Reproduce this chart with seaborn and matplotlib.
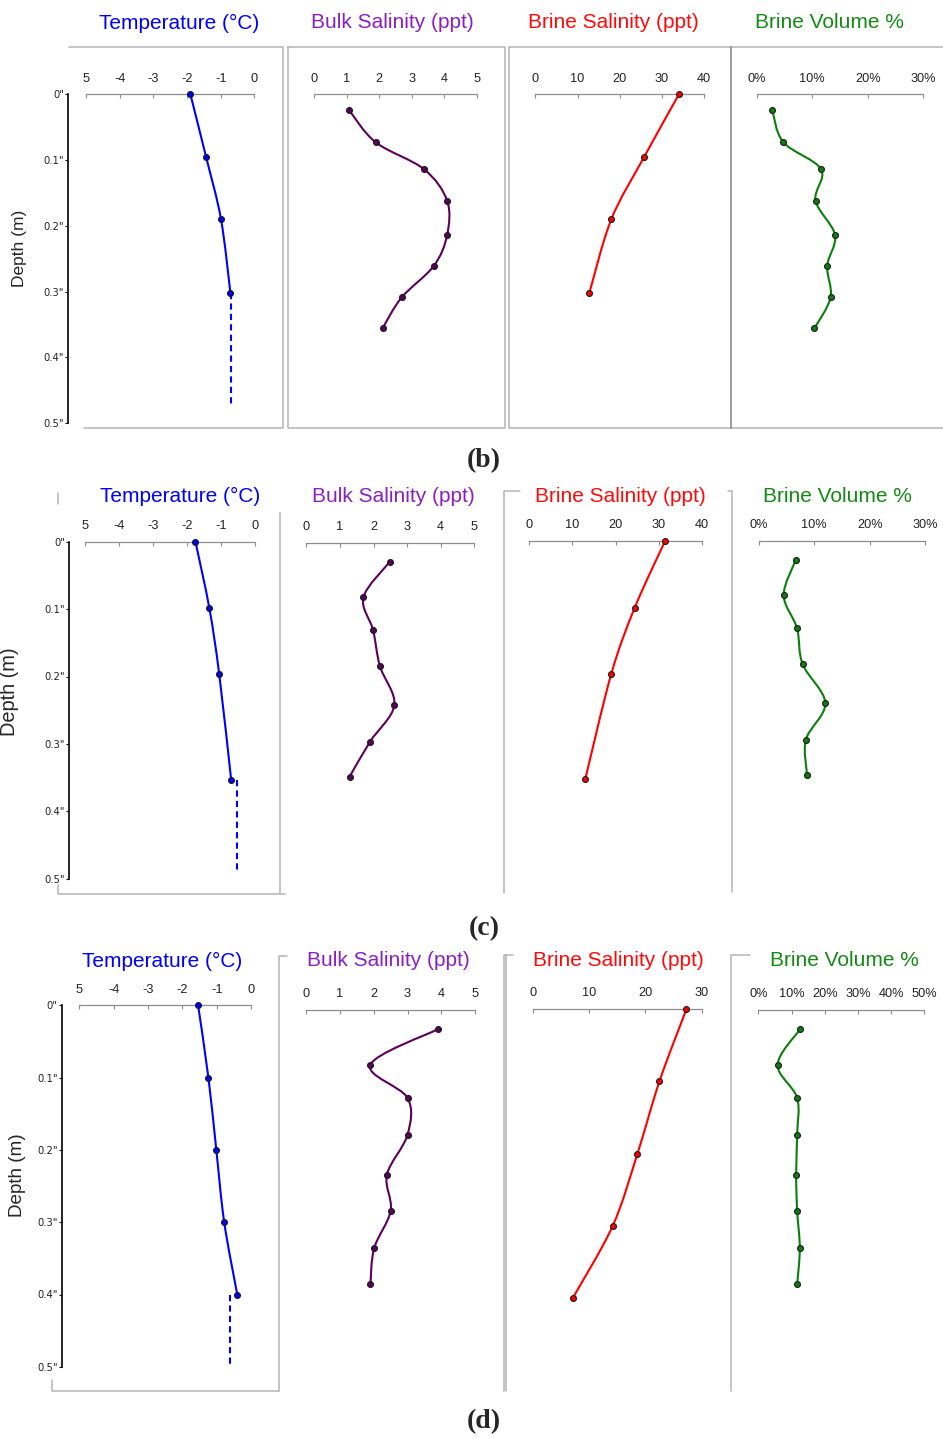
import matplotlib.pyplot as plt
import numpy as np
import seaborn as sns
from matplotlib.lines import Line2D
from matplotlib.patches import PathPatch
from matplotlib.path import Path
from matplotlib.ticker import FixedFormatter, FixedLocator

W, H = 943, 1438

# ---- data (depth in m) ----
# (b)
b_temp_depth = [0.0, 0.096, 0.190, 0.302]
b_temp = [-1.90, -1.43, -0.99, -0.71]
b_ice_depth = [0.302, 0.475]
b_ice_temp = [-0.70, -0.70]
b_brine_sal = [34.0, 25.7, 18.0, 12.8]
b_bulk_depth = [0.024, 0.073, 0.114, 0.162, 0.214, 0.261, 0.309, 0.356]
b_bulk_sal = [1.07, 1.89, 3.38, 4.09, 4.09, 3.68, 2.69, 2.10]
b_brine_vol = [2.8, 4.8, 11.6, 10.6, 14.1, 12.7, 13.3, 10.4]

# (c)
c_temp_depth = [0.0, 0.099, 0.197, 0.353]
c_temp = [-1.76, -1.35, -1.06, -0.71]
c_ice_depth = [0.353, 0.49]
c_ice_temp = [-0.54, -0.54]
c_brine_sal = [31.4, 24.4, 19.0, 13.0]
c_bulk_depth = [0.028, 0.081, 0.130, 0.183, 0.241, 0.295, 0.347]
c_bulk_sal = [2.49, 1.70, 1.99, 2.19, 2.62, 1.90, 1.29]
c_brine_vol = [6.7, 4.5, 6.9, 7.9, 12.0, 8.5, 8.7]

# (d)
d_temp_depth = [0.0, 0.1, 0.2, 0.3, 0.4]
d_temp = [-1.54, -1.24, -1.01, -0.78, -0.40]
d_ice_depth = [0.4, 0.498]
d_ice_temp = [-0.60, -0.60]
d_brine_sal = [27.3, 22.5, 18.6, 14.2, 7.1]
d_bulk_depth = [0.027, 0.076, 0.122, 0.173, 0.228, 0.278, 0.330, 0.380]
d_bulk_sal = [3.90, 1.90, 3.00, 3.00, 2.39, 2.50, 2.01, 1.90]
d_brine_vol = [12.6, 5.8, 11.7, 11.7, 11.4, 11.7, 12.5, 11.7]

depth_ticks = [0, 0.1, 0.2, 0.3, 0.4, 0.5]
depth_labels = ['0"', '0.1"', '0.2"', '0.3"', '0.4"', '0.5"']
temp_ticks = [-5, -4, -3, -2, -1, 0]
temp_labels = ["5", "-4", "-3", "-2", "-1", "0"]
bulk_ticks = [0, 1, 2, 3, 4, 5]
brine40_ticks = [0, 10, 20, 30, 40]
brine30_ticks = [0, 10, 20, 30]
vol30_ticks = [0, 10, 20, 30]
vol50_ticks = [0, 10, 20, 30, 40, 50]

TITLES = ["Temperature (°C)", "Bulk Salinity (ppt)", "Brine Salinity (ppt)", "Brine Volume %"]
TITLE_COLORS = ["#0000ff", "#8a1fc4", "#ff0a0a", "#138a13"]
LINE_COLORS = ["#0000ff", "#5c005c", "#ff0000", "#0a800a"]

sns.set_style("white")
plt.rcParams["font.family"] = ["Liberation Sans", "DejaVu Sans"]


def px_axes(fig, x0, x1, top, height):
    return fig.add_axes([x0 / W, 1 - (top + height) / H, (x1 - x0) / W, height / H])


def smooth_path(x, y):
    # Excel-like smoothed line: Catmull-Rom segments as cubic Bezier curves
    pts = np.column_stack([x, y]).astype(float)
    n = len(pts)
    verts, codes = [pts[0]], [Path.MOVETO]
    for i in range(n - 1):
        p0, p1 = pts[max(i - 1, 0)], pts[i]
        p2, p3 = pts[i + 1], pts[min(i + 2, n - 1)]
        verts += [p1 + (p2 - p0) / 6, p2 - (p3 - p1) / 6, p2]
        codes += [Path.CURVE4] * 3
    return Path(verts, codes)


def profile(ax, values, depth, color, xlim, ticks, labels, bounds=None):
    ax.add_patch(PathPatch(smooth_path(values, depth), fill=False,
                           edgecolor=color, lw=1.5, zorder=2))
    sns.scatterplot(x=values, y=depth, ax=ax, marker="o", s=18, color=color,
                    edgecolor="#1a1a1a", linewidth=0.8, zorder=3, clip_on=False)
    ax.set_xlim(*xlim)
    ax.set_ylim(0.5, 0)
    ax.set_xlabel("")
    ax.set_ylabel("")
    ax.xaxis.tick_top()
    ax.xaxis.set_major_locator(FixedLocator(ticks))
    ax.xaxis.set_major_formatter(FixedFormatter(labels))
    ax.tick_params(axis="x", top=True, bottom=False, labeltop=True, labelbottom=False,
                   direction="in", length=3, width=0.8, color="#8c8c8c", pad=7,
                   labelsize=9.2, labelcolor="#222222")
    for s in ["right", "bottom", "left"]:
        ax.spines[s].set_visible(False)
    ax.spines["top"].set_color("#8c8c8c")
    ax.spines["top"].set_linewidth(0.9)
    if bounds is not None:
        ax.spines["top"].set_bounds(*bounds)
    ax.tick_params(axis="y", left=False, labelleft=False)
    ax.set_facecolor("none")


def depth_axis(ax):
    ax.spines["left"].set_visible(True)
    ax.spines["left"].set_color("black")
    ax.spines["left"].set_linewidth(1.2)
    ax.yaxis.set_major_locator(FixedLocator(depth_ticks))
    ax.yaxis.set_major_formatter(FixedFormatter(depth_labels))
    ax.tick_params(axis="y", left=True, labelleft=True, direction="out", length=2.5,
                   width=0.8, color="black", pad=0.5, labelsize=7.2, labelcolor="#222222")
    for t in ax.get_yticklabels():
        t.set_fontfamily("DejaVu Sans")


def pct(ticks):
    return [f"{t}%" for t in ticks]


# row layout in pixels: (x0, x1, top) per panel, plus depth span for 0.5 m
rows = [
    dict(
        height=328.7, title_y=23, label="(b)", label_y=461, depth_lbl=(20, 248, 12.5),
        panels=[(68.3, 254.3, 94.3), (314.3, 476.7, 94.3), (535.3, 704.3, 94.3), (756.7, 923.3, 94.3)],
        title_x=[179, 392, 613, 829],
        temp=(b_temp, b_temp_depth, b_ice_temp, b_ice_depth, -5.53),
        bulk=(b_bulk_sal, b_bulk_depth), brine=(b_brine_sal, b_temp_depth, brine40_ticks),
        vol=(b_brine_vol, b_bulk_depth, vol30_ticks),
    ),
    dict(
        height=337.0, title_y=496, label="(c)", label_y=929, depth_lbl=(10, 692, 14.4),
        panels=[(69.3, 255.3, 541.7), (306.3, 474.3, 542.7), (529.0, 702.3, 541.0), (758.7, 925.3, 540.7)],
        title_x=[180, 393, 620, 837],
        temp=(c_temp, c_temp_depth, c_ice_temp, c_ice_depth, -5.47),
        bulk=(c_bulk_sal, c_bulk_depth), brine=(c_brine_sal, c_temp_depth, brine40_ticks),
        vol=(c_brine_vol, c_bulk_depth, vol30_ticks),
    ),
    dict(
        height=361.5, title_y=961, label="(d)", label_y=1422, depth_lbl=(17, 1175, 13.6),
        panels=[(61.7, 251.0, 1005.3), (306.3, 475.0, 1009.7), (532.7, 701.7, 1009.0), (758.3, 924.3, 1009.7)],
        title_x=[162, 388, 618, 844],
        temp=(d_temp, d_temp_depth, d_ice_temp, d_ice_depth, -5.51),
        bulk=(d_bulk_sal, d_bulk_depth), brine=(d_brine_sal, d_temp_depth, brine30_ticks),
        vol=(d_brine_vol, d_bulk_depth, vol50_ticks),
    ),
]

# decorative frame fragments from the composed figure (pixel polylines)
frames = [
    ([(69, 47), (283, 47), (283, 428), (84, 428)], "#b4b4b4"),
    ([(288, 47), (505, 47), (505, 428), (288, 428), (288, 47)], "#b4b4b4"),
    ([(509, 47), (943, 47)], "#b4b4b4"),
    ([(509, 47), (509, 428), (943, 428)], "#b4b4b4"),
    ([(731, 47), (731, 428)], "#808080"),
    ([(58, 493), (58, 504)], "#b4b4b4"),
    ([(58, 885), (58, 894), (285, 894)], "#b4b4b4"),
    ([(280, 513), (280, 893)], "#b4b4b4"),
    ([(520, 491), (504, 491), (504, 893)], "#b4b4b4"),
    ([(728, 491), (731.7, 491), (731.7, 892)], "#b4b4b4"),
    ([(287, 956), (279, 956), (279, 1391)], "#b4b4b4"),
    ([(52, 1380), (52, 1391), (279, 1391)], "#b4b4b4"),
    ([(513, 955), (504, 955), (504, 1391)], "#b4b4b4"),
    ([(506, 955), (506, 1391)], "#b4b4b4"),
    ([(750, 955), (731, 955), (731, 1391)], "#b4b4b4"),
]

fig = plt.figure(figsize=(W / 100, H / 100), dpi=100)

for pts, col in frames:
    xs = [p[0] / W for p in pts]
    ys = [1 - p[1] / H for p in pts]
    fig.add_artist(Line2D(xs, ys, color=col, lw=1.1, transform=fig.transFigure))

for row in rows:
    h = row["height"]
    axs = [px_axes(fig, x0, x1, top, h) for x0, x1, top in row["panels"]]

    temp, tdepth, ice_t, ice_d, tleft = row["temp"]
    profile(axs[0], temp, tdepth, LINE_COLORS[0], (tleft, 0), temp_ticks, temp_labels, bounds=(-5, 0))
    axs[0].plot(ice_t, ice_d, color=LINE_COLORS[0], lw=1.5, ls=(0, (3, 2)))
    depth_axis(axs[0])

    bulk, bdepth = row["bulk"]
    profile(axs[1], bulk, bdepth, LINE_COLORS[1], (0, 5), bulk_ticks, [str(t) for t in bulk_ticks])

    brine, brdepth, brticks = row["brine"]
    profile(axs[2], brine, brdepth, LINE_COLORS[2], (0, brticks[-1]), brticks, [str(t) for t in brticks])

    vol, vdepth, vticks = row["vol"]
    profile(axs[3], vol, vdepth, LINE_COLORS[3], (0, vticks[-1]), vticks, pct(vticks))

    for title, col, tx in zip(TITLES, TITLE_COLORS, row["title_x"]):
        fig.text(tx / W, 1 - row["title_y"] / H, title, color=col, fontsize=15,
                 ha="center", va="center", family="Liberation Sans")

    dx, dy, dsize = row["depth_lbl"]
    fig.text(dx / W, 1 - dy / H, "Depth (m)", rotation=90, fontsize=dsize,
             ha="center", va="center", family="Liberation Sans")

    fig.text(484 / W, 1 - row["label_y"] / H, row["label"], fontsize=20, fontweight="bold",
             ha="center", va="center", family="Liberation Serif")

fig.savefig("out.png", dpi=100)
